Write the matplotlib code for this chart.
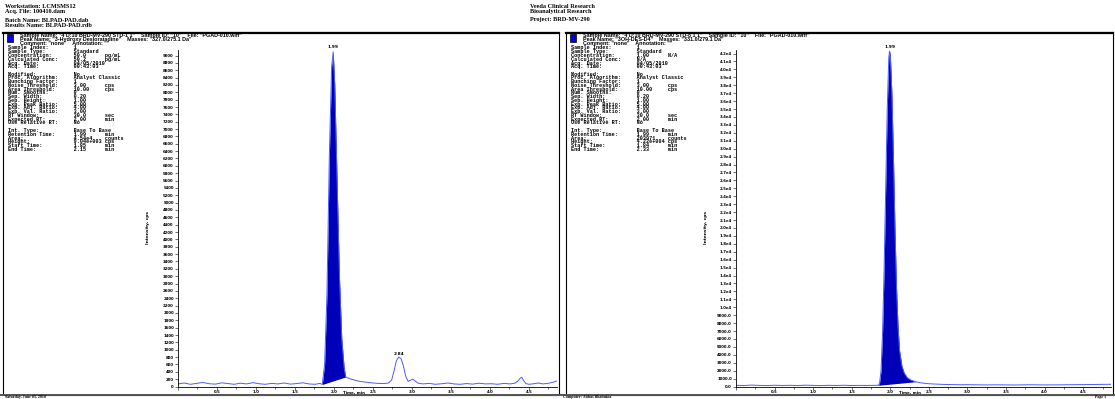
"""
Analyst-style chromatogram report: analyte (left) and internal standard (right).
"""

import numpy as np
import matplotlib.pyplot as plt
from matplotlib.ticker import MultipleLocator, FuncFormatter
from matplotlib.patches import Rectangle
from matplotlib.lines import Line2D

# ---- data ----
analyte_time = [0.00, 0.08, 0.16, 0.24, 0.32, 0.40, 0.48, 0.56, 0.64, 0.72,
                0.80, 0.88, 0.96, 1.04, 1.12, 1.20, 1.28, 1.36, 1.44, 1.52,
                1.60, 1.68, 1.76, 1.82, 1.85,
                1.88, 1.91, 1.94, 1.97, 1.99, 2.01, 2.04, 2.07, 2.10, 2.13, 2.15,
                2.18, 2.22, 2.27, 2.33, 2.40, 2.48, 2.56, 2.64, 2.70, 2.74,
                2.77, 2.80, 2.83, 2.86, 2.89, 2.92, 2.95, 2.98, 3.01, 3.04,
                3.08, 3.14, 3.22, 3.30, 3.38, 3.46, 3.54, 3.62, 3.70, 3.78,
                3.86, 3.94, 4.02, 4.10, 4.18, 4.26, 4.32, 4.36, 4.39, 4.41,
                4.43, 4.46, 4.50, 4.56, 4.62, 4.68, 4.74, 4.80, 4.86]
analyte_cps = [70, 95, 60, 85, 110, 75, 65, 100, 80, 60,
               90, 70, 105, 75, 60, 85, 70, 95, 65, 80,
               100, 70, 60, 85, 55,
               600, 2500, 6200, 8700, 9100, 8200, 5600, 3000, 1300, 520, 260,
               230, 200, 170, 140, 120, 100, 85, 80, 95, 180,
               420, 700, 800, 760, 560, 280, 140, 170, 200, 150,
               90, 70, 85, 60, 75, 95, 70, 60, 80, 65,
               90, 70, 75, 60, 85, 70, 90, 150, 230, 250,
               170, 80, 60, 75, 95, 70, 85, 110, 150]

istd_time = [0.00, 0.10, 0.20, 0.30, 0.40, 0.50, 0.60, 0.70, 0.80, 0.90,
             1.00, 1.10, 1.20, 1.30, 1.40, 1.50, 1.60, 1.70, 1.80, 1.84,
             1.86, 1.88, 1.90, 1.92, 1.94, 1.96, 1.98, 1.99, 2.00, 2.02,
             2.04, 2.06, 2.08, 2.10, 2.12, 2.15, 2.18, 2.22, 2.27, 2.33,
             2.40, 2.50, 2.60, 2.70, 2.80, 2.90, 3.00, 3.20, 3.40, 3.60,
             3.80, 4.00, 4.20, 4.40, 4.60, 4.86]
istd_cps = [150, 120, 180, 140, 110, 160, 130, 150, 120, 170,
            140, 110, 150, 130, 160, 120, 140, 130, 150, 150,
            400, 2000, 7000, 15000, 25000, 35000, 41500, 42300, 41800, 37000,
            29000, 20000, 12500, 7500, 4500, 2600, 1700, 1100, 800, 600,
            450, 350, 300, 260, 240, 220, 230, 200, 210, 190,
            220, 200, 210, 230, 250, 280]

analyte_peaks = [(1.99, 9100, "1.99"), (2.84, 800, "2.84")]
istd_peaks = [(1.99, 42300, "1.99")]
analyte_window = (1.85, 2.15)
istd_window = (1.84, 2.33)

analyte_info = [
    'Sample Index:        1',
    'Sample Type:         Standard',
    'Concentration:       50.0      pg/mL',
    'Calculated Conc:     50.2      pg/mL',
    'Acq. Date:           04/05/2010',
    'Acq. Time:           00:43:03',
    '',
    'Modified:            No',
    'Proc. Algorithm:     Analyst Classic',
    'Bunching Factor:     1',
    'Noise Threshold:     3.00      cps',
    'Area Threshold:      10.00     cps',
    'Num. Smooths:        0',
    'Sep. Width:          0.20',
    'Sep. Height:         1.00',
    'Exp. Peak Ratio:     5.00',
    'Exp. Adj. Ratio:     4.00',
    'Exp. Val. Ratio:     3.00',
    'RT Window:           30.0      sec',
    'Expected RT:         2.00      min',
    'Use Relative RT:     No',
    '',
    'Int. Type:           Base To Base',
    'Retention Time:      1.99      min',
    'Area:                4.54e4    counts',
    'Height:              9.04e+003 cps',
    'Start Time:          1.85      min',
    'End Time:            2.15      min',
]
istd_info = [
    'Sample Index:        1',
    'Sample Type:         Standard',
    'Concentration:       1.00      N/A',
    'Calculated Conc:     N/A',
    'Acq. Date:           04/05/2010',
    'Acq. Time:           00:43:03',
    '',
    'Modified:            No',
    'Proc. Algorithm:     Analyst Classic',
    'Bunching Factor:     1',
    'Noise Threshold:     3.00      cps',
    'Area Threshold:      10.00     cps',
    'Num. Smooths:        0',
    'Sep. Width:          0.20',
    'Sep. Height:         1.00',
    'Exp. Peak Ratio:     5.00',
    'Exp. Adj. Ratio:     4.00',
    'Exp. Val. Ratio:     3.00',
    'RT Window:           30.0      sec',
    'Expected RT:         2.00      min',
    'Use Relative RT:     No',
    '',
    'Int. Type:           Base To Base',
    'Retention Time:      1.99      min',
    'Area:                203971    counts',
    'Height:              4.22e+004 cps',
    'Start Time:          1.84      min',
    'End Time:            2.33      min',
]

analyte_header = ['Sample Name: "4 D:10 BRD-MV-290 STD-1 1"    Sample ID: "10"    File: "PGAD-010.wiff"',
                  'Peak Name: "3-Hydroxy Desloratadine"    Masses: "327.0/275.1 Da"',
                  'Comment: "none"    Annotation: ""']
istd_header = ['Sample Name: "4 D:10 BRD-MV-290 STD-8 1 1"    Sample ID: "10"    File: "PGAD-010.wiff"',
               'Peak Name: "3OH-DES-D4"    Masses: "331.0/279.1 Da"',
               'Comment: "none"    Annotation: ""']

W, H = 1115, 399
fig = plt.figure(figsize=(W / 100, H / 100), dpi=100)


def fx(px):
    return px / W


def fy(py):
    return 1 - py / H


TRACE = '#4a5cff'
FILL = '#0000b8'
AX_BOTTOM = 386.5


def panel(x0, x1, ax_left, header, info, t, v, peaks, window, ylim, ystep, fmt):
    # frame
    fig.add_artist(Rectangle((fx(x0), fy(394.5)), fx(x1 - x0), (394.5 - 32) / H,
                             transform=fig.transFigure, fill=False,
                             edgecolor='black', linewidth=0.8))
    fig.add_artist(Line2D([fx(x0), fx(x1)], [fy(32.5), fy(32.5)],
                          transform=fig.transFigure, color='black', linewidth=1.6))
    fig.add_artist(Rectangle((fx(x0 + 4), fy(42)), fx(6), 8 / H,
                             transform=fig.transFigure, facecolor='#0000e0',
                             edgecolor='black', linewidth=0.5))
    for i, line in enumerate(header):
        fig.text(fx(x0 + 17), fy(35.3 + i * 3.9), line, fontsize=3.9,
                 family='Liberation Sans', fontweight='bold', va='center')
    for i, line in enumerate(info):
        if line:
            fig.text(fx(x0 + 5), fy(48 + i * 3.75), line, fontsize=3.7,
                     family='Liberation Mono', fontweight='bold', va='center')

    ax = fig.add_axes([fx(ax_left), fy(AX_BOTTOM), fx(x1 - 2 - ax_left),
                       (AX_BOTTOM - 50) / H])
    ax.plot(t, v, color=TRACE, linewidth=0.7)
    t = np.asarray(t)
    v = np.asarray(v)
    m = (t >= window[0]) & (t <= window[1])
    base = np.interp(t[m], [window[0], window[1]],
                     [np.interp(window[0], t, v), np.interp(window[1], t, v)])
    ax.fill_between(t[m], base, v[m], color=FILL, linewidth=0)
    for pt, ph, lab in peaks:
        ax.text(pt, ph * 1.003 + ylim * 0.004, lab, fontsize=3.2, ha='center',
                va='bottom', fontweight='bold', clip_on=False)

    ax.set_xlim(0, 4.86)
    ax.set_ylim(0, ylim)
    ax.xaxis.set_major_locator(MultipleLocator(0.5))
    ax.xaxis.set_minor_locator(MultipleLocator(0.25))
    ax.xaxis.set_major_formatter(FuncFormatter(lambda x, p: '' if x < 0.1 else f'{x:.1f}'))
    ax.yaxis.set_major_locator(MultipleLocator(ystep))
    ax.yaxis.set_major_formatter(FuncFormatter(fmt))
    for s in ('top', 'right'):
        ax.spines[s].set_visible(False)
    for s in ('left', 'bottom'):
        ax.spines[s].set_linewidth(0.6)
    ax.tick_params(axis='both', which='major', labelsize=2.8, length=2, width=0.4, pad=1)
    ax.tick_params(axis='x', which='major', pad=0.3)
    ax.tick_params(axis='x', which='minor', length=1.2, width=0.4)
    for lab in ax.get_xticklabels() + ax.get_yticklabels():
        lab.set_fontweight('bold')
    # x label sits in the gap between the 2.0 and 2.5 tick labels
    lx = ax.transData.transform((2.25, 0))[0] / fig.dpi / fig.get_figwidth()
    fig.text(lx, fy(392.8), 'Time, min', fontsize=2.8, ha='center',
             va='center', fontweight='bold')
    fig.text(fx(ax_left - 30), fy(228), 'Intensity, cps', fontsize=3.2,
             rotation=90, ha='center', va='center', fontweight='bold')
    return ax


panel(3, 559, 178, analyte_header, analyte_info, analyte_time, analyte_cps,
      analyte_peaks, analyte_window, 9150, 200, lambda y, p: f'{y:.0f}')
panel(566, 1113, 736, istd_header, istd_info, istd_time, istd_cps,
      istd_peaks, istd_window, 42450, 1000,
      lambda y, p: f'{y / 1e4:.1f}e4' if y >= 1e4 else f'{y:.1f}')

# ---- report header / footer ----
hdr = dict(fontsize=4.5, family='Liberation Serif', fontweight='bold', va='center')
fig.text(fx(5), fy(6), 'Workstation: LCMSMS12', **hdr)
fig.text(fx(5), fy(11.5), 'Acq. File: 100410.dam', **hdr)
fig.text(fx(5), fy(20), 'Batch Name: BLPAD-PAD.dab', **hdr)
fig.text(fx(5), fy(25.5), 'Results Name: BLPAD-PAD.rdb', **hdr)
fig.text(fx(530), fy(6), 'Veeda Clinical Research', **hdr)
fig.text(fx(530), fy(11.5), 'Bioanalytical Research', **hdr)
fig.text(fx(530), fy(20), 'Project: BRD-MV-290', **hdr)
fig.add_artist(Line2D([0, 1], [fy(395.3), fy(395.3)], transform=fig.transFigure,
                      color='#555555', linewidth=1.4))
ftr = dict(fontsize=2.9, family='Liberation Serif', fontweight='bold', va='center')
fig.text(fx(5), fy(397.3), 'Saturday, June 03, 2010', **ftr)
fig.text(fx(563), fy(397.3), 'Computer: Abbas Bhabukia', **ftr)
fig.text(fx(1095), fy(397.3), 'Page 1', **ftr)

fig.savefig('out.png', dpi=100)
